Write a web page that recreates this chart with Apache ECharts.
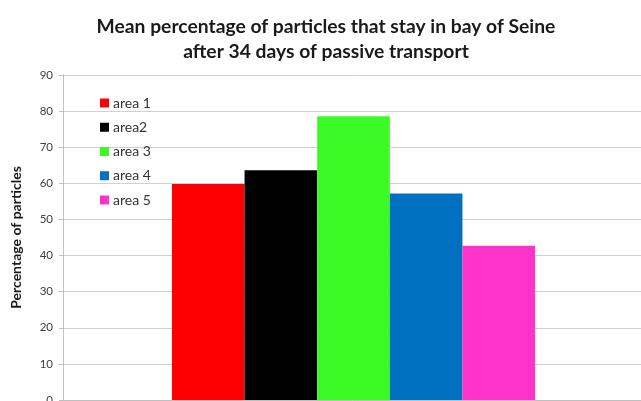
<!DOCTYPE html>
<html>
<head>
<meta charset="utf-8">
<script src="https://cdn.jsdelivr.net/npm/echarts@6/dist/echarts.min.js"></script>
<style>
  html, body { margin: 0; padding: 0; background: #ffffff; }
  #chart { width: 641px; height: 401px; }
</style>
</head>
<body>
<div id="chart"></div>
<script>
// Mean share of particles retained in the bay, one bar per release area
const areaNames = ['area 1', 'area2', 'area 3', 'area 4', 'area 5'];
const areaValues = [59.8, 63.6, 78.6, 57.2, 42.7];
const areaColors = ['#ff0000', '#000000', '#3cfa26', '#0070c0', '#ff33cc'];
const categories = [''];

const titleLines = [
  'Mean percentage of particles that stay in bay of Seine',
  'after 34 days of passive transport'
];
const yAxisTitle = 'Percentage of particles';

const chart = echarts.init(document.getElementById('chart'), null, { renderer: 'canvas' });

const series = areaNames.map((name, i) => ({
  name: name,
  type: 'bar',
  data: [areaValues[i]],
  barGap: '0%',
  barCategoryGap: '37.5%',
  itemStyle: { color: areaColors[i] }
}));

chart.setOption({
  animation: false,
  backgroundColor: '#ffffff',
  title: {
    text: titleLines.join('\n'),
    left: 321,
    textAlign: 'center',
    top: 9,
    textStyle: {
      fontFamily: 'Lato',
      fontWeight: 'bold',
      fontSize: 19.3,
      lineHeight: 25,
      color: '#1a1a1a'
    }
  },
  legend: {
    orient: 'vertical',
    left: 95,
    top: 91,
    itemWidth: 9,
    itemHeight: 9,
    itemGap: 10.25,
    icon: 'rect',
    textStyle: { fontFamily: 'Lato', fontSize: 14, lineHeight: 14, color: '#333333', padding: [0, 0, 0, -1] },
    data: areaNames
  },
  grid: { left: 63, top: 75, width: 581, height: 325, containLabel: false, outerBoundsMode: 'none' },
  xAxis: {
    type: 'category',
    data: categories,
    axisLine: { show: true, lineStyle: { color: '#bfbfbf' } },
    axisTick: { show: false },
    axisLabel: { show: false }
  },
  yAxis: {
    type: 'value',
    min: 0,
    max: 90,
    interval: 10,
    name: yAxisTitle,
    nameLocation: 'middle',
    nameGap: 40,
    nameTextStyle: { fontFamily: 'Lato', fontWeight: 'bold', fontSize: 14, color: '#1a1a1a' },
    axisLine: { show: true, lineStyle: { color: '#bfbfbf' } },
    axisTick: { show: true, length: 4, lineStyle: { color: '#bfbfbf' } },
    axisLabel: { fontFamily: 'Lato', fontSize: 11.5, color: '#404040', margin: 10 },
    splitLine: { show: true, lineStyle: { color: '#d0d0d0' } }
  },
  series: series
});
</script>
</body>
</html>
